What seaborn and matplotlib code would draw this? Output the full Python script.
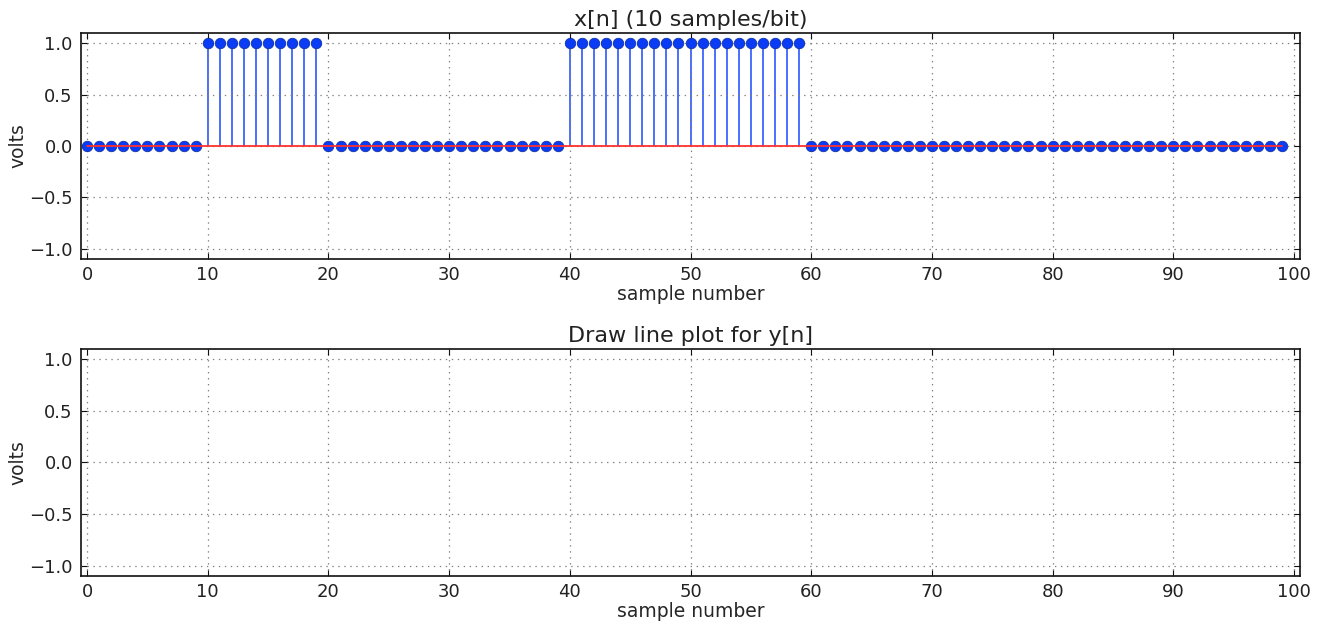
"""Stem plot of a 10 samples/bit signal and an empty panel for y[n]."""

import matplotlib
matplotlib.use("Agg")
import matplotlib.pyplot as plt
import numpy as np
import seaborn as sns

# bit pattern, each bit held for 10 samples
bits = [0, 1, 0, 0, 1, 1, 0, 0, 0, 0]
samples_per_bit = 10
n = np.arange(len(bits) * samples_per_bit)
x = np.repeat(bits, samples_per_bit).astype(float)

x_ticks = [0, 10, 20, 30, 40, 50, 60, 70, 80, 90, 100]
y_ticks = [-1.0, -0.5, 0.0, 0.5, 1.0]

sns.set_theme(
    style="whitegrid",
    rc={
        "axes.edgecolor": "#111111",
        "axes.linewidth": 1.2,
        "axes.axisbelow": False,
        "lines.scale_dashes": False,
        "grid.color": "#808080",
        "grid.linestyle": (0, (1.0, 3.3)),
        "grid.linewidth": 0.9,
        "xtick.direction": "in",
        "ytick.direction": "in",
        "xtick.top": True,
        "ytick.right": True,
        "xtick.bottom": True,
        "ytick.left": True,
        "xtick.major.size": 4,
        "ytick.major.size": 4,
        "xtick.major.width": 0.8,
        "ytick.major.width": 0.8,
        "xtick.major.pad": 5,
        "ytick.major.pad": 6,
        "xtick.labelsize": 13,
        "ytick.labelsize": 13,
        "axes.labelsize": 13.5,
        "axes.titlesize": 16,
        "text.color": "#222222",
        "xtick.color": "#111111",
        "ytick.color": "#111111",
        "xtick.labelcolor": "#222222",
        "ytick.labelcolor": "#222222",
    },
)
plt.rcParams["font.family"] = ["DejaVu Sans"]

fig = plt.figure(figsize=(13.22, 6.22), dpi=100)
ax1 = fig.add_axes([0.0613, 0.5836, 0.9221, 0.3634])
ax2 = fig.add_axes([0.0613, 0.0740, 0.9221, 0.3649])

# stems, heads, then baseline on top (like the old stem())
ax1.vlines(n, 0, x, colors="#1a48ff", linewidth=1.1, zorder=2)
sns.scatterplot(x=n, y=x, ax=ax1, s=58, color="#0a3cf5",
                edgecolor="#0a2a9a", linewidth=0.5, zorder=3, legend=False)
sns.lineplot(x=[n.min(), n.max()], y=[0, 0], ax=ax1, color="#ff3030",
             linewidth=1.3, zorder=4)

for ax, title in [(ax1, "x[n] (10 samples/bit)"), (ax2, "Draw line plot for y[n]")]:
    ax.set_xlim(-0.5, 100.5)
    ax.set_ylim(-1.1, 1.1)
    ax.set_xticks(x_ticks)
    ax.set_yticks(y_ticks)
    ax.grid(True)
    ax.set_title(title, pad=5)
    ax.set_xlabel("sample number", labelpad=1)
    ax.set_ylabel("volts", labelpad=1)

fig.savefig("out.png", dpi=100)
